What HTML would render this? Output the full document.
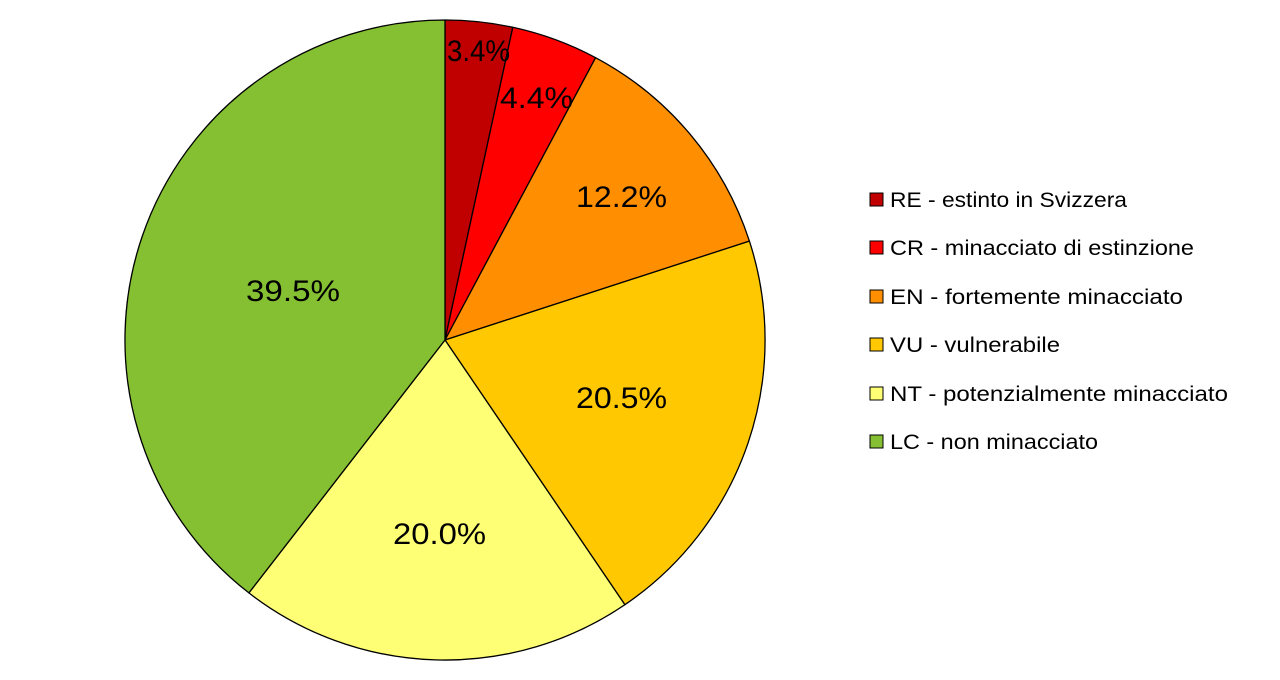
<!DOCTYPE html>
<html><head><meta charset="utf-8"><style>
html,body{margin:0;padding:0;background:#fff;}
svg{display:block;}
text{font-family:"Liberation Sans",sans-serif;}
</style></head><body>
<svg width="1280" height="680" viewBox="0 0 1280 680" xmlns="http://www.w3.org/2000/svg">
<g stroke="#000" stroke-width="1.3" stroke-linejoin="round">
<path d="M445,340 L445,20 A320,320 0 0,1 512.8,27.3 Z" fill="#C00000"/>
<path d="M445,340 L512.8,27.3 A320,320 0 0,1 595.6,57.7 Z" fill="#FF0000"/>
<path d="M445,340 L595.6,57.7 A320,320 0 0,1 749.4,241.1 Z" fill="#FF8F00"/>
<path d="M445,340 L749.4,241.1 A320,320 0 0,1 624.9,604.7 Z" fill="#FFC800"/>
<path d="M445,340 L624.9,604.7 A320,320 0 0,1 248.9,592.9 Z" fill="#FFFF75"/>
<path d="M445,340 L248.9,592.9 A320,320 0 0,1 445,20 Z" fill="#84C032"/>
</g>
<g font-size="30" fill="#000" lengthAdjust="spacingAndGlyphs">
<text x="447" y="61" textLength="63" lengthAdjust="spacingAndGlyphs">3.4%</text>
<text x="500" y="108" textLength="73" lengthAdjust="spacingAndGlyphs">4.4%</text>
<text x="576" y="207" textLength="91" lengthAdjust="spacingAndGlyphs">12.2%</text>
<text x="576" y="408" textLength="91" lengthAdjust="spacingAndGlyphs">20.5%</text>
<text x="393" y="544" textLength="93" lengthAdjust="spacingAndGlyphs">20.0%</text>
<text x="246" y="301" textLength="94" lengthAdjust="spacingAndGlyphs">39.5%</text>
</g>
<g fill="#000" stroke="#000" stroke-width="1">
<rect x="870" y="193" width="13" height="13" fill="#C00000"/>
<rect x="870" y="241" width="13" height="13" fill="#FF0000"/>
<rect x="870" y="290" width="13" height="13" fill="#FF8F00"/>
<rect x="870" y="338" width="13" height="13" fill="#FFC800"/>
<rect x="870" y="387" width="13" height="13" fill="#FFFF75"/>
<rect x="870" y="435" width="13" height="13" fill="#84C032"/>
</g>
<g font-size="21" fill="#000">
<text x="890" y="207" textLength="237" lengthAdjust="spacingAndGlyphs">RE - estinto in Svizzera</text>
<text x="890" y="255" textLength="304" lengthAdjust="spacingAndGlyphs">CR - minacciato di estinzione</text>
<text x="890" y="304" textLength="293" lengthAdjust="spacingAndGlyphs">EN - fortemente minacciato</text>
<text x="890" y="352" textLength="170" lengthAdjust="spacingAndGlyphs">VU - vulnerabile</text>
<text x="890" y="401" textLength="338" lengthAdjust="spacingAndGlyphs">NT - potenzialmente minacciato</text>
<text x="890" y="449" textLength="208" lengthAdjust="spacingAndGlyphs">LC - non minacciato</text>
</g>
</svg>
</body></html>
